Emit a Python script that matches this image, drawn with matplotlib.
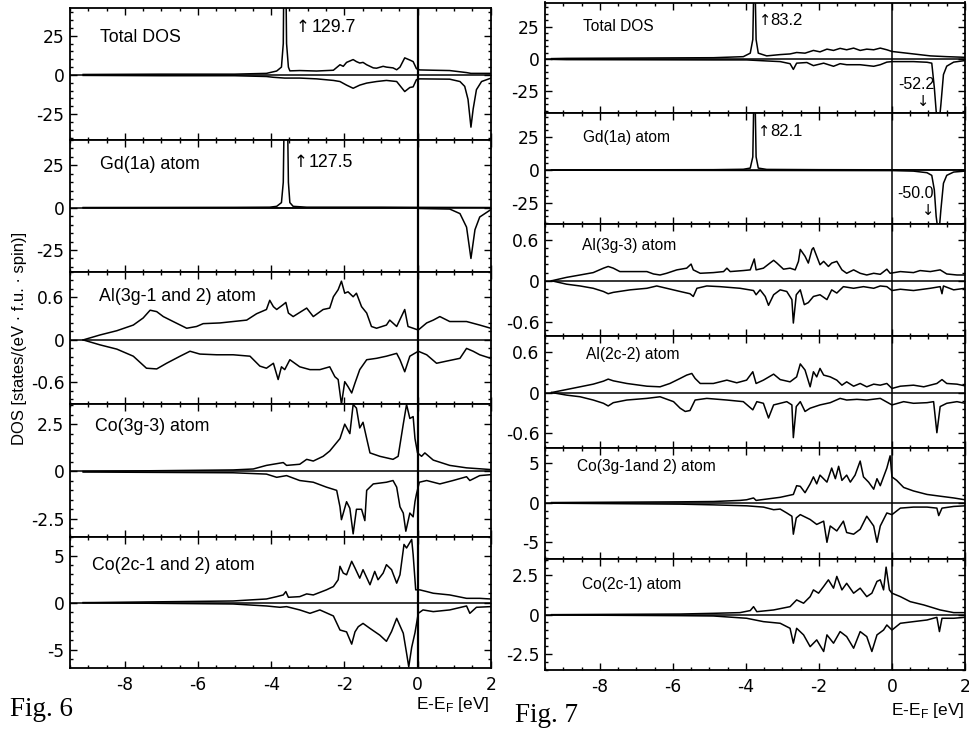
import matplotlib
matplotlib.use('Agg')
import matplotlib.pyplot as plt
from matplotlib.ticker import FixedLocator, MultipleLocator

plt.rcParams['font.family'] = ['Liberation Sans', 'DejaVu Sans']
plt.rcParams['axes.unicode_minus'] = False
plt.rcParams['mathtext.fontset'] = 'custom'
plt.rcParams['mathtext.rm'] = 'Liberation Sans'

# ---------------- Fig. 6 data (E-EF [eV], DOS) ----------------
L_TOT_UP = [(-9.14, 0.3), (-7.0, 0.5), (-5.0, 0.5), (-4.13, 1.0), (-3.85, 2.5), (-3.72, 5), (-3.67, 20),
            (-3.63, 129.7), (-3.58, 20), (-3.53, 5), (-3.49, 2.6), (-3.22, 2.8), (-2.76, 2.5), (-2.30, 3.0),
            (-2.12, 6.5), (-2.03, 5.5), (-1.94, 8), (-1.76, 9.8), (-1.67, 8.5), (-1.58, 7.6), (-1.49, 8),
            (-1.39, 6.5), (-1.21, 4.5), (-1.12, 4.3), (-0.94, 5.5), (-0.85, 5.0), (-0.67, 4.5), (-0.57, 3.3),
            (-0.48, 5), (-0.35, 10.9), (-0.21, 9.5), (-0.12, 8.5), (-0.03, 4), (0.06, 3.2), (0.43, 3.0),
            (0.88, 2.8), (1.34, 1.5), (1.46, 1.0), (1.70, 1.0), (2.0, 1.0)]
L_TOT_DN = [(-9.14, -0.3), (-7.0, -0.5), (-5.0, -0.5), (-4.13, -1.0), (-3.94, -1.5), (-3.63, -2.0),
            (-3.22, -2.0), (-2.76, -2.5), (-2.30, -3.5), (-2.12, -4.2), (-1.94, -6.5), (-1.76, -8.5),
            (-1.67, -7.5), (-1.58, -6.5), (-1.39, -5.2), (-1.12, -4.2), (-0.85, -3.5), (-0.57, -4.2),
            (-0.35, -10.6), (-0.21, -8.0), (-0.12, -7.6), (-0.03, -3.0), (0.06, -2.5), (0.88, -2.7),
            (1.16, -4.2), (1.29, -7.3), (1.38, -15.6), (1.46, -33.3), (1.52, -21.8), (1.61, -9.4),
            (1.75, -4.2), (2.0, -2.1)]
L_GD_UP = [(-9.14, 0.1), (-5.0, 0.2), (-4.04, 0.3), (-3.85, 0.8), (-3.72, 3), (-3.67, 15), (-3.60, 127.5),
           (-3.53, 15), (-3.49, 3), (-3.40, 0.8), (-3.03, 0.3), (-1.0, 0.3), (0.0, 0.2), (2.0, 0.1)]
L_GD_DN = [(-9.14, -0.1), (0.0, -0.2), (0.06, -0.5), (0.88, -0.8), (1.16, -3.5), (1.34, -11.5),
           (1.46, -30.0), (1.57, -13.0), (1.70, -5.5), (2.0, -1.2)]
L_AL_UP = [(-9.14, 0.0), (-8.68, 0.07), (-8.22, 0.13), (-7.77, 0.21), (-7.50, 0.31), (-7.31, 0.42),
           (-7.13, 0.40), (-6.95, 0.33), (-6.68, 0.26), (-6.31, 0.165), (-6.04, 0.19), (-5.86, 0.23),
           (-5.40, 0.24), (-5.04, 0.26), (-4.67, 0.28), (-4.40, 0.37), (-4.13, 0.43), (-4.04, 0.56),
           (-3.94, 0.47), (-3.85, 0.43), (-3.67, 0.50), (-3.60, 0.53), (-3.53, 0.38), (-3.40, 0.33),
           (-3.03, 0.45), (-2.85, 0.33), (-2.58, 0.43), (-2.40, 0.45), (-2.30, 0.61), (-2.17, 0.71),
           (-2.08, 0.83), (-1.99, 0.66), (-1.90, 0.68), (-1.76, 0.61), (-1.67, 0.66), (-1.53, 0.47),
           (-1.39, 0.38), (-1.26, 0.19), (-1.12, 0.165), (-0.85, 0.21), (-0.76, 0.28), (-0.57, 0.19),
           (-0.35, 0.43), (-0.26, 0.19), (0.02, 0.14), (0.25, 0.24), (0.43, 0.28), (0.61, 0.33),
           (0.88, 0.26), (1.34, 0.26), (1.70, 0.21), (2.0, 0.165)]
L_AL_DN = [(-9.14, 0.0), (-8.68, -0.07), (-8.22, -0.13), (-7.77, -0.23), (-7.41, -0.40), (-7.13, -0.41),
           (-6.86, -0.33), (-6.49, -0.23), (-6.22, -0.16), (-5.95, -0.20), (-5.49, -0.21), (-5.04, -0.21),
           (-4.58, -0.23), (-4.31, -0.37), (-4.13, -0.40), (-3.94, -0.33), (-3.81, -0.56), (-3.72, -0.38),
           (-3.63, -0.42), (-3.49, -0.28), (-3.22, -0.38), (-2.94, -0.42), (-2.67, -0.42), (-2.40, -0.38),
           (-2.26, -0.52), (-2.17, -0.56), (-2.08, -0.91), (-1.99, -0.59), (-1.90, -0.66), (-1.80, -0.75),
           (-1.71, -0.61), (-1.58, -0.42), (-1.39, -0.28), (-1.12, -0.26), (-0.85, -0.23), (-0.57, -0.19),
           (-0.48, -0.28), (-0.35, -0.45), (-0.21, -0.23), (0.02, -0.16), (0.25, -0.21), (0.52, -0.33),
           (0.79, -0.30), (1.16, -0.26), (1.34, -0.12), (1.52, -0.16), (1.70, -0.21), (2.0, -0.26)]
L_CO3_UP = [(-9.14, 0.0), (-5.04, 0.08), (-4.49, 0.13), (-4.13, 0.32), (-3.67, 0.47), (-3.58, 0.32),
            (-3.22, 0.38), (-3.03, 0.64), (-2.85, 0.55), (-2.58, 0.80), (-2.40, 1.08), (-2.12, 1.74),
            (-1.99, 2.5), (-1.85, 2.0), (-1.76, 3.54), (-1.67, 3.35), (-1.58, 2.3), (-1.49, 2.6),
            (-1.39, 1.74), (-1.30, 0.98), (-1.03, 0.80), (-0.67, 0.64), (-0.53, 0.80), (-0.39, 2.5),
            (-0.30, 3.54), (-0.21, 2.8), (-0.12, 2.9), (-0.07, 1.74), (0.0, 0.98), (0.11, 0.80),
            (0.20, 0.98), (0.43, 0.60), (0.88, 0.32), (1.34, 0.19), (2.0, 0.10)]
L_CO3_DN = [(-9.14, -0.03), (-5.04, -0.07), (-4.13, -0.14), (-3.85, -0.31), (-3.58, -0.22), (-3.22, -0.48),
            (-2.85, -0.57), (-2.49, -0.83), (-2.21, -1.0), (-2.12, -1.87), (-2.08, -2.55), (-1.94, -1.6),
            (-1.85, -1.95), (-1.76, -3.3), (-1.67, -2.0), (-1.53, -2.0), (-1.44, -2.6), (-1.39, -1.0),
            (-1.21, -0.66), (-0.85, -0.57), (-0.67, -0.48), (-0.57, -0.83), (-0.48, -1.87), (-0.39, -2.2),
            (-0.32, -3.16), (-0.21, -2.2), (-0.12, -2.4), (-0.07, -1.6), (-0.03, -1.2), (0.05, -0.57),
            (0.25, -0.48), (0.61, -0.66), (0.97, -0.48), (1.34, -0.28), (1.43, -0.48), (1.70, -0.22),
            (2.0, -0.17)]
L_CO2_UP = [(-9.14, 0.0), (-5.04, 0.18), (-4.58, 0.29), (-4.13, 0.39), (-3.85, 0.64), (-3.67, 0.82),
            (-3.60, 1.18), (-3.53, 0.57), (-3.22, 0.64), (-3.03, 0.93), (-2.85, 0.82), (-2.49, 1.36),
            (-2.30, 1.71), (-2.17, 2.43), (-2.12, 3.86), (-2.03, 3.14), (-1.94, 2.96), (-1.80, 4.39),
            (-1.71, 3.68), (-1.58, 2.6), (-1.49, 3.5), (-1.30, 1.9), (-1.17, 3.32), (-1.08, 2.43),
            (-0.94, 3.14), (-0.85, 4.03), (-0.71, 3.5), (-0.57, 2.07), (-0.48, 2.96), (-0.37, 6.18),
            (-0.30, 5.8), (-0.16, 6.71), (-0.12, 5.1), (-0.05, 1.36), (0.06, 1.36), (0.25, 1.18),
            (0.43, 1.0), (0.88, 0.82), (1.34, 0.46), (1.70, 0.46), (2.0, 0.39)]
L_CO2_DN = [(-9.14, 0.0), (-5.04, -0.14), (-4.13, -0.35), (-3.76, -0.49), (-3.58, -0.42), (-3.22, -0.77),
            (-2.94, -1.13), (-2.67, -0.77), (-2.30, -1.41), (-2.12, -2.90), (-1.94, -3.10), (-1.80, -4.4),
            (-1.71, -3.10), (-1.62, -2.55), (-1.49, -2.2), (-1.30, -2.73), (-1.03, -3.45), (-0.85, -4.1),
            (-0.71, -3.06), (-0.57, -1.66), (-0.39, -3.24), (-0.30, -5.35), (-0.24, -6.8), (-0.16, -4.75),
            (-0.07, -3.2), (0.02, -1.13), (0.15, -0.77), (0.43, -0.95), (0.88, -0.77), (1.34, -0.35),
            (1.43, -1.13), (1.61, -0.49), (2.0, -0.42)]

# ---------------- Fig. 7 data ----------------
R_TOT_UP = [(-9.32, 0.3), (-8.91, 0.5), (-4.89, 1.0), (-4.07, 1.8), (-3.88, 4.5), (-3.81, 15), (-3.765, 83.2),
            (-3.72, 15), (-3.66, 4.5), (-3.43, 2.4), (-3.06, 3.4), (-2.79, 3.9), (-2.61, 5.0), (-2.38, 4.5),
            (-2.15, 6.6), (-1.97, 5.5), (-1.78, 7.6), (-1.60, 6.6), (-1.42, 8.2), (-1.24, 7.1), (-1.05, 8.4),
            (-0.87, 6.6), (-0.69, 7.6), (-0.50, 7.1), (-0.32, 8.4), (-0.14, 7.1), (0.0, 5.8), (0.59, 3.9),
            (1.05, 2.4), (1.50, 1.8), (2.0, 1.3)]
R_TOT_DN = [(-9.32, -0.3), (-8.91, -0.5), (-4.89, -0.7), (-3.98, -0.7), (-3.43, -1.5), (-3.06, -2.0),
            (-2.79, -3.6), (-2.70, -8.0), (-2.61, -3.2), (-2.33, -2.7), (-2.15, -5.1), (-1.87, -3.2),
            (-1.60, -5.6), (-1.42, -3.6), (-1.24, -4.4), (-0.87, -4.4), (-0.50, -5.6), (-0.32, -4.4),
            (-0.14, -2.4), (0.0, -2.0), (0.59, -2.0), (0.96, -2.5), (1.09, -3.2), (1.16, -22), (1.21, -40),
            (1.28, -52.2), (1.34, -35), (1.41, -12), (1.50, -5.5), (1.69, -2.4), (2.0, -1.2)]
R_GD_UP = [(-9.32, 0.1), (-4.89, 0.3), (-4.07, 0.6), (-3.88, 1.5), (-3.81, 10), (-3.765, 82.1), (-3.72, 10),
           (-3.66, 1.5), (-3.43, 0.5), (-2.0, 0.3), (0.0, 0.2), (2.0, 0.1)]
R_GD_DN = [(-9.32, -0.1), (0.0, -0.4), (0.59, -0.8), (0.96, -2.0), (1.09, -4), (1.16, -15), (1.21, -35),
           (1.28, -50.0), (1.34, -30), (1.41, -10), (1.50, -4), (1.69, -1.5), (2.0, -0.8)]
R_AL3_UP = [(-9.32, 0.0), (-8.91, 0.05), (-8.54, 0.085), (-8.18, 0.12), (-7.90, 0.185), (-7.77, 0.21),
            (-7.63, 0.185), (-7.45, 0.135), (-7.08, 0.135), (-6.71, 0.135), (-6.53, 0.10), (-6.35, 0.085),
            (-6.17, 0.11), (-5.89, 0.16), (-5.62, 0.185), (-5.50, 0.245), (-5.44, 0.16), (-5.25, 0.11),
            (-4.89, 0.12), (-4.61, 0.135), (-4.52, 0.185), (-4.43, 0.135), (-4.07, 0.15), (-3.88, 0.16),
            (-3.77, 0.32), (-3.72, 0.16), (-3.52, 0.185), (-3.34, 0.26), (-3.24, 0.30), (-3.15, 0.26),
            (-2.97, 0.17), (-2.79, 0.185), (-2.65, 0.16), (-2.56, 0.285), (-2.51, 0.46), (-2.38, 0.36),
            (-2.29, 0.26), (-2.19, 0.46), (-2.15, 0.485), (-2.06, 0.36), (-1.97, 0.235), (-1.87, 0.285),
            (-1.74, 0.21), (-1.65, 0.26), (-1.51, 0.285), (-1.37, 0.16), (-1.24, 0.11), (-1.05, 0.16),
            (-0.87, 0.11), (-0.69, 0.085), (-0.50, 0.11), (-0.32, 0.095), (-0.14, 0.17), (-0.05, 0.11),
            (0.23, 0.135), (0.59, 0.12), (0.77, 0.15), (1.05, 0.135), (1.32, 0.16), (1.50, 0.10),
            (1.78, 0.085), (2.0, 0.085)]
R_AL3_DN = [(-9.32, 0.0), (-8.91, -0.05), (-8.54, -0.076), (-8.18, -0.11), (-7.90, -0.157), (-7.77, -0.19),
            (-7.63, -0.17), (-7.17, -0.133), (-6.71, -0.11), (-6.44, -0.076), (-6.17, -0.11), (-5.80, -0.157),
            (-5.53, -0.19), (-5.44, -0.23), (-5.34, -0.11), (-5.07, -0.076), (-4.71, -0.086), (-4.16, -0.11),
            (-3.79, -0.143), (-3.72, -0.205), (-3.61, -0.133), (-3.47, -0.23), (-3.38, -0.36), (-3.24, -0.205),
            (-3.06, -0.133), (-2.88, -0.157), (-2.74, -0.276), (-2.70, -0.62), (-2.62, -0.205), (-2.51, -0.133),
            (-2.40, -0.35), (-2.29, -0.32), (-2.15, -0.23), (-1.97, -0.205), (-1.78, -0.276), (-1.65, -0.133),
            (-1.51, -0.18), (-1.33, -0.086), (-1.05, -0.11), (-0.78, -0.086), (-0.50, -0.11), (-0.32, -0.076),
            (-0.14, -0.086), (0.0, -0.143), (0.23, -0.124), (0.59, -0.143), (1.05, -0.11), (1.32, -0.086),
            (1.37, -0.19), (1.41, -0.076), (1.69, -0.133), (2.0, -0.11)]
R_AL2_UP = [(-9.32, 0.0), (-8.91, 0.044), (-8.54, 0.084), (-8.18, 0.123), (-7.90, 0.167), (-7.77, 0.197),
            (-7.63, 0.172), (-7.26, 0.133), (-6.71, 0.093), (-6.35, 0.084), (-6.08, 0.133), (-5.80, 0.207),
            (-5.62, 0.256), (-5.48, 0.28), (-5.39, 0.207), (-5.25, 0.133), (-4.89, 0.133), (-4.52, 0.182),
            (-4.25, 0.143), (-3.98, 0.182), (-3.81, 0.305), (-3.72, 0.133), (-3.52, 0.182), (-3.24, 0.27),
            (-3.06, 0.19), (-2.79, 0.157), (-2.61, 0.23), (-2.51, 0.42), (-2.38, 0.33), (-2.24, 0.084),
            (-2.15, 0.305), (-2.06, 0.23), (-1.97, 0.354), (-1.87, 0.256), (-1.69, 0.23), (-1.51, 0.182),
            (-1.37, 0.108), (-1.24, 0.157), (-1.05, 0.093), (-0.87, 0.133), (-0.69, 0.084), (-0.50, 0.123),
            (-0.32, 0.108), (-0.14, 0.133), (0.0, 0.06), (0.23, 0.093), (0.59, 0.108), (0.87, 0.084),
            (1.23, 0.133), (1.37, 0.19), (1.50, 0.133), (1.78, 0.123), (2.0, 0.098)]
R_AL2_DN = [(-9.32, 0.0), (-8.91, -0.038), (-8.54, -0.062), (-8.18, -0.11), (-7.90, -0.158), (-7.77, -0.197),
            (-7.63, -0.149), (-7.26, -0.11), (-6.71, -0.086), (-6.35, -0.062), (-5.98, -0.134), (-5.80, -0.23),
            (-5.66, -0.278), (-5.53, -0.264), (-5.39, -0.11), (-5.07, -0.086), (-4.52, -0.11), (-4.07, -0.134),
            (-3.81, -0.254), (-3.70, -0.134), (-3.52, -0.158), (-3.38, -0.374), (-3.24, -0.182), (-2.88, -0.134),
            (-2.74, -0.182), (-2.70, -0.662), (-2.62, -0.206), (-2.51, -0.134), (-2.38, -0.278), (-2.24, -0.23),
            (-1.97, -0.182), (-1.69, -0.149), (-1.42, -0.086), (-1.24, -0.11), (-0.96, -0.10), (-0.69, -0.11),
            (-0.32, -0.086), (0.0, -0.182), (0.32, -0.134), (0.59, -0.158), (0.96, -0.149), (1.14, -0.134),
            (1.23, -0.59), (1.32, -0.206), (1.50, -0.158), (1.78, -0.134), (2.0, -0.158)]
R_CO3_UP = [(-9.32, 0.0), (-5.80, 0.09), (-4.89, 0.13), (-4.16, 0.27), (-3.98, 0.35), (-3.79, 0.58),
            (-3.72, 0.27), (-3.43, 0.44), (-3.06, 0.66), (-2.70, 1.02), (-2.61, 2.12), (-2.51, 2.04),
            (-2.38, 1.24), (-2.24, 2.35), (-2.15, 3.23), (-2.06, 2.35), (-1.97, 3.45), (-1.78, 2.57),
            (-1.65, 4.34), (-1.55, 3.0), (-1.46, 4.56), (-1.37, 2.79), (-1.24, 3.45), (-1.14, 2.57),
            (-1.01, 3.45), (-0.87, 5.22), (-0.78, 3.23), (-0.64, 2.57), (-0.50, 1.68), (-0.41, 3.0),
            (-0.32, 2.12), (-0.14, 4.34), (-0.05, 5.88), (0.0, 3.23), (0.13, 2.79), (0.32, 1.9),
            (0.59, 1.46), (0.96, 1.02), (1.32, 0.80), (1.69, 0.58), (2.0, 0.35)]
R_CO3_DN = [(-9.32, -0.08), (-5.80, -0.2), (-4.89, -0.29), (-3.98, -0.41), (-3.52, -0.57), (-3.24, -0.9),
            (-3.06, -0.82), (-2.88, -1.31), (-2.74, -1.72), (-2.70, -3.98), (-2.62, -1.93), (-2.51, -1.52),
            (-2.24, -2.13), (-2.06, -2.75), (-1.87, -2.34), (-1.78, -5.0), (-1.69, -2.95), (-1.51, -3.57),
            (-1.33, -2.34), (-1.24, -3.77), (-1.05, -3.98), (-0.87, -3.36), (-0.69, -1.72), (-0.50, -2.95),
            (-0.41, -5.0), (-0.32, -2.95), (-0.14, -1.31), (0.0, -1.52), (0.23, -0.7), (0.59, -0.57),
            (0.96, -0.57), (1.23, -0.70), (1.28, -1.64), (1.37, -0.70), (1.69, -0.49), (2.0, -0.41)]
R_CO2_UP = [(-9.32, 0.0), (-5.80, 0.04), (-4.89, 0.085), (-4.16, 0.13), (-3.88, 0.26), (-3.79, 0.51),
            (-3.70, 0.19), (-3.24, 0.30), (-2.79, 0.51), (-2.61, 0.94), (-2.42, 0.73), (-2.24, 1.15),
            (-2.15, 1.58), (-2.01, 1.37), (-1.87, 1.80), (-1.74, 2.22), (-1.60, 1.69), (-1.51, 2.44),
            (-1.37, 1.58), (-1.24, 2.0), (-1.05, 1.37), (-0.87, 1.69), (-0.69, 1.15), (-0.55, 1.37),
            (-0.41, 2.12), (-0.32, 2.22), (-0.23, 1.58), (-0.16, 3.03), (-0.07, 1.58), (0.0, 1.37),
            (0.23, 1.15), (0.50, 0.83), (0.87, 0.62), (1.32, 0.30), (1.69, 0.13), (2.0, 0.13)]
R_CO2_DN = [(-9.32, -0.02), (-5.80, -0.064), (-4.89, -0.085), (-3.98, -0.23), (-3.52, -0.445), (-3.06, -0.55),
            (-2.79, -0.87), (-2.70, -1.82), (-2.61, -0.87), (-2.42, -1.29), (-2.24, -2.04), (-2.06, -1.61),
            (-1.87, -2.35), (-1.78, -1.29), (-1.60, -1.82), (-1.42, -1.08), (-1.24, -1.40), (-1.05, -2.14),
            (-0.87, -1.08), (-0.69, -1.40), (-0.55, -2.35), (-0.41, -1.29), (-0.23, -0.98), (-0.14, -0.66),
            (0.0, -0.98), (0.23, -0.55), (0.59, -0.445), (0.96, -0.34), (1.23, -0.17), (1.30, -1.08),
            (1.37, -0.23), (1.69, -0.23), (2.0, -0.17)]

# ---------------- labels / ranges ----------------
L_NAMES = ["Total DOS", "Gd(1a) atom", "Al(3g-1 and 2) atom", "Co(3g-3) atom", "Co(2c-1 and 2) atom"]
R_NAMES = ["Total DOS", "Gd(1a) atom", "Al(3g-3) atom", "Al(2c-2) atom", "Co(3g-1and 2) atom", "Co(2c-1) atom"]
L_YLIMS = [(-41.5, 42.7), (-38, 40), (-0.91, 0.96), (-3.45, 3.55), (-6.9, 7.0)]
R_YLIMS = [(-41.8, 43.5), (-41, 43), (-0.81, 0.83), (-0.81, 0.83), (-7.1, 6.9), (-3.53, 3.55)]
L_YSTEP = [25, 25, 0.6, 2.5, 5]
R_YSTEP = [25, 25, 0.6, 0.6, 5, 2.5]
X_TICKS = [-8, -6, -4, -2, 0, 2]
XLIM = (-9.5, 2.0)

L_CURVES = [(L_TOT_UP, L_TOT_DN), (L_GD_UP, L_GD_DN), (L_AL_UP, L_AL_DN), (L_CO3_UP, L_CO3_DN), (L_CO2_UP, L_CO2_DN)]
R_CURVES = [(R_TOT_UP, R_TOT_DN), (R_GD_UP, R_GD_DN), (R_AL3_UP, R_AL3_DN), (R_AL2_UP, R_AL2_DN),
            (R_CO3_UP, R_CO3_DN), (R_CO2_UP, R_CO2_DN)]

L_LABEL_AT = [(-8.68, 23.6), (-8.68, 25.3), (-8.70, 0.62), (-8.82, 2.4), (-8.91, 3.9)]
R_LABEL_AT = [(-8.47, 24.8), (-8.47, 24.5), (-8.49, 0.52), (-8.38, 0.56), (-8.63, 4.5), (-8.49, 1.94)]

# peak annotations: (panel, arrow E, arrow y, arrow char, text E, text y, text)
L_PEAKS = [(0, -3.13, 30.5, '\u2191', -2.89, 30, '129.7'), (1, -3.20, 27, '\u2191', -2.99, 26.5, '127.5')]
R_PEAKS = [(0, -3.46, 30, '\u2191', -3.34, 29.5, '83.2'), (1, -3.49, 29.5, '\u2191', -3.34, 29, '82.1')]
R_DOWN = [(0, 0.86, -32.8, 0.66, -20, '-52.2'), (1, 0.99, -30.3, 0.65, -18, '-50.0')]

W, H = 970, 729
fig = plt.figure(figsize=(W / 100, H / 100), dpi=100)
TICKFONT = {'family': 'DejaVu Sans', 'size': 12.3}


def add_ax(l, t, r, b):
    return fig.add_axes([l / W, 1 - b / H, (r - l) / W, (b - t) / H])


def fmt(v):
    return '0' if abs(v) < 1e-9 else ('%g' % v)


def style_panel(ax, ylim, step, last, vlw):
    ax.set_xlim(*XLIM)
    ax.set_ylim(*ylim)
    yt = [-step, 0, step]
    ax.yaxis.set_major_locator(FixedLocator(yt))
    ax.set_yticklabels([fmt(v) for v in yt], fontdict=TICKFONT)
    ax.yaxis.set_minor_locator(MultipleLocator(step / 5))
    ax.xaxis.set_major_locator(FixedLocator(X_TICKS))
    ax.xaxis.set_minor_locator(MultipleLocator(0.5))
    ax.tick_params(which='both', direction='in', top=True, right=True, width=1.0, colors='black')
    ax.tick_params(which='major', length=5, pad=4)
    ax.tick_params(which='minor', length=2.5)
    if last:
        ax.set_xticklabels([fmt(v) for v in X_TICKS], fontdict=TICKFONT)
        ax.tick_params(axis='x', pad=6)
    else:
        ax.tick_params(axis='x', labelbottom=False)
    for s in ax.spines.values():
        s.set_linewidth(1.3)
    ax.axhline(0, color='black', lw=1.1, zorder=1)
    ax.axvline(0, color='black', lw=vlw, zorder=1)


def draw(ax, up, dn, lw):
    ax.plot([p[0] for p in up], [p[1] for p in up], color='black', lw=lw, zorder=2)
    ax.plot([p[0] for p in dn], [p[1] for p in dn], color='black', lw=lw, zorder=2)


# ---------------- Fig. 6 ----------------
L_BOUNDS = [8, 140, 272, 404.3, 536.7, 667.7]
left_axes = []
for i in range(5):
    ax = add_ax(70, L_BOUNDS[i], 490.7, L_BOUNDS[i + 1])
    style_panel(ax, L_YLIMS[i], L_YSTEP[i], i == 4, 1.6)
    draw(ax, L_CURVES[i][0], L_CURVES[i][1], 1.1)
    ax.text(L_LABEL_AT[i][0], L_LABEL_AT[i][1], L_NAMES[i], fontsize=12.8, ha='left', va='center')
    left_axes.append(ax)
for (p, ae, ay, ach, te, ty, txt) in L_PEAKS:
    left_axes[p].text(ae, ay, ach, fontsize=12, family='DejaVu Sans', ha='center', va='center')
    left_axes[p].text(te, ty, txt, fontsize=12.8, ha='left', va='center')

# ---------------- Fig. 7 ----------------
R_BOUNDS = [2.5, 113.3, 224.2, 336, 447.7, 559, 670]
right_axes = []
for i in range(6):
    ax = add_ax(545, R_BOUNDS[i], 965, R_BOUNDS[i + 1])
    style_panel(ax, R_YLIMS[i], R_YSTEP[i], i == 5, 1.1)
    draw(ax, R_CURVES[i][0], R_CURVES[i][1], 1.1)
    ax.text(R_LABEL_AT[i][0], R_LABEL_AT[i][1], R_NAMES[i], fontsize=11.2, ha='left', va='center')
    right_axes.append(ax)
for (p, ae, ay, ach, te, ty, txt) in R_PEAKS:
    right_axes[p].text(ae, ay, ach, fontsize=10.5, family='DejaVu Sans', ha='center', va='center')
    right_axes[p].text(te, ty, txt, fontsize=12, ha='left', va='center')
for (p, ae, ay, te, ty, txt) in R_DOWN:
    right_axes[p].text(te, ty, txt, fontsize=11.5, ha='center', va='center')
    right_axes[p].text(ae, ay, '\u2193', fontsize=10.5, family='DejaVu Sans', ha='center', va='center')

# ---------------- global texts ----------------
fig.text(20 / W, 1 - 338 / H, 'DOS [states/(eV \u00b7 f.u. \u00b7 spin)]', rotation=90,
         ha='center', va='center', fontsize=12)
fig.text(490 / W, 1 - 705 / H, r'E-E$_\mathregular{F}$ [eV]', ha='right', va='center', fontsize=12.5)
fig.text(965 / W, 1 - 711 / H, r'E-E$_\mathregular{F}$ [eV]', ha='right', va='center', fontsize=12.5)
fig.text(10 / W, 1 - 710 / H, 'Fig. 6', ha='left', va='center', fontsize=19.5, family='Liberation Serif')
fig.text(515 / W, 1 - 715 / H, 'Fig. 7', ha='left', va='center', fontsize=19.5, family='Liberation Serif')

fig.savefig('out.png', dpi=100, facecolor='white')
